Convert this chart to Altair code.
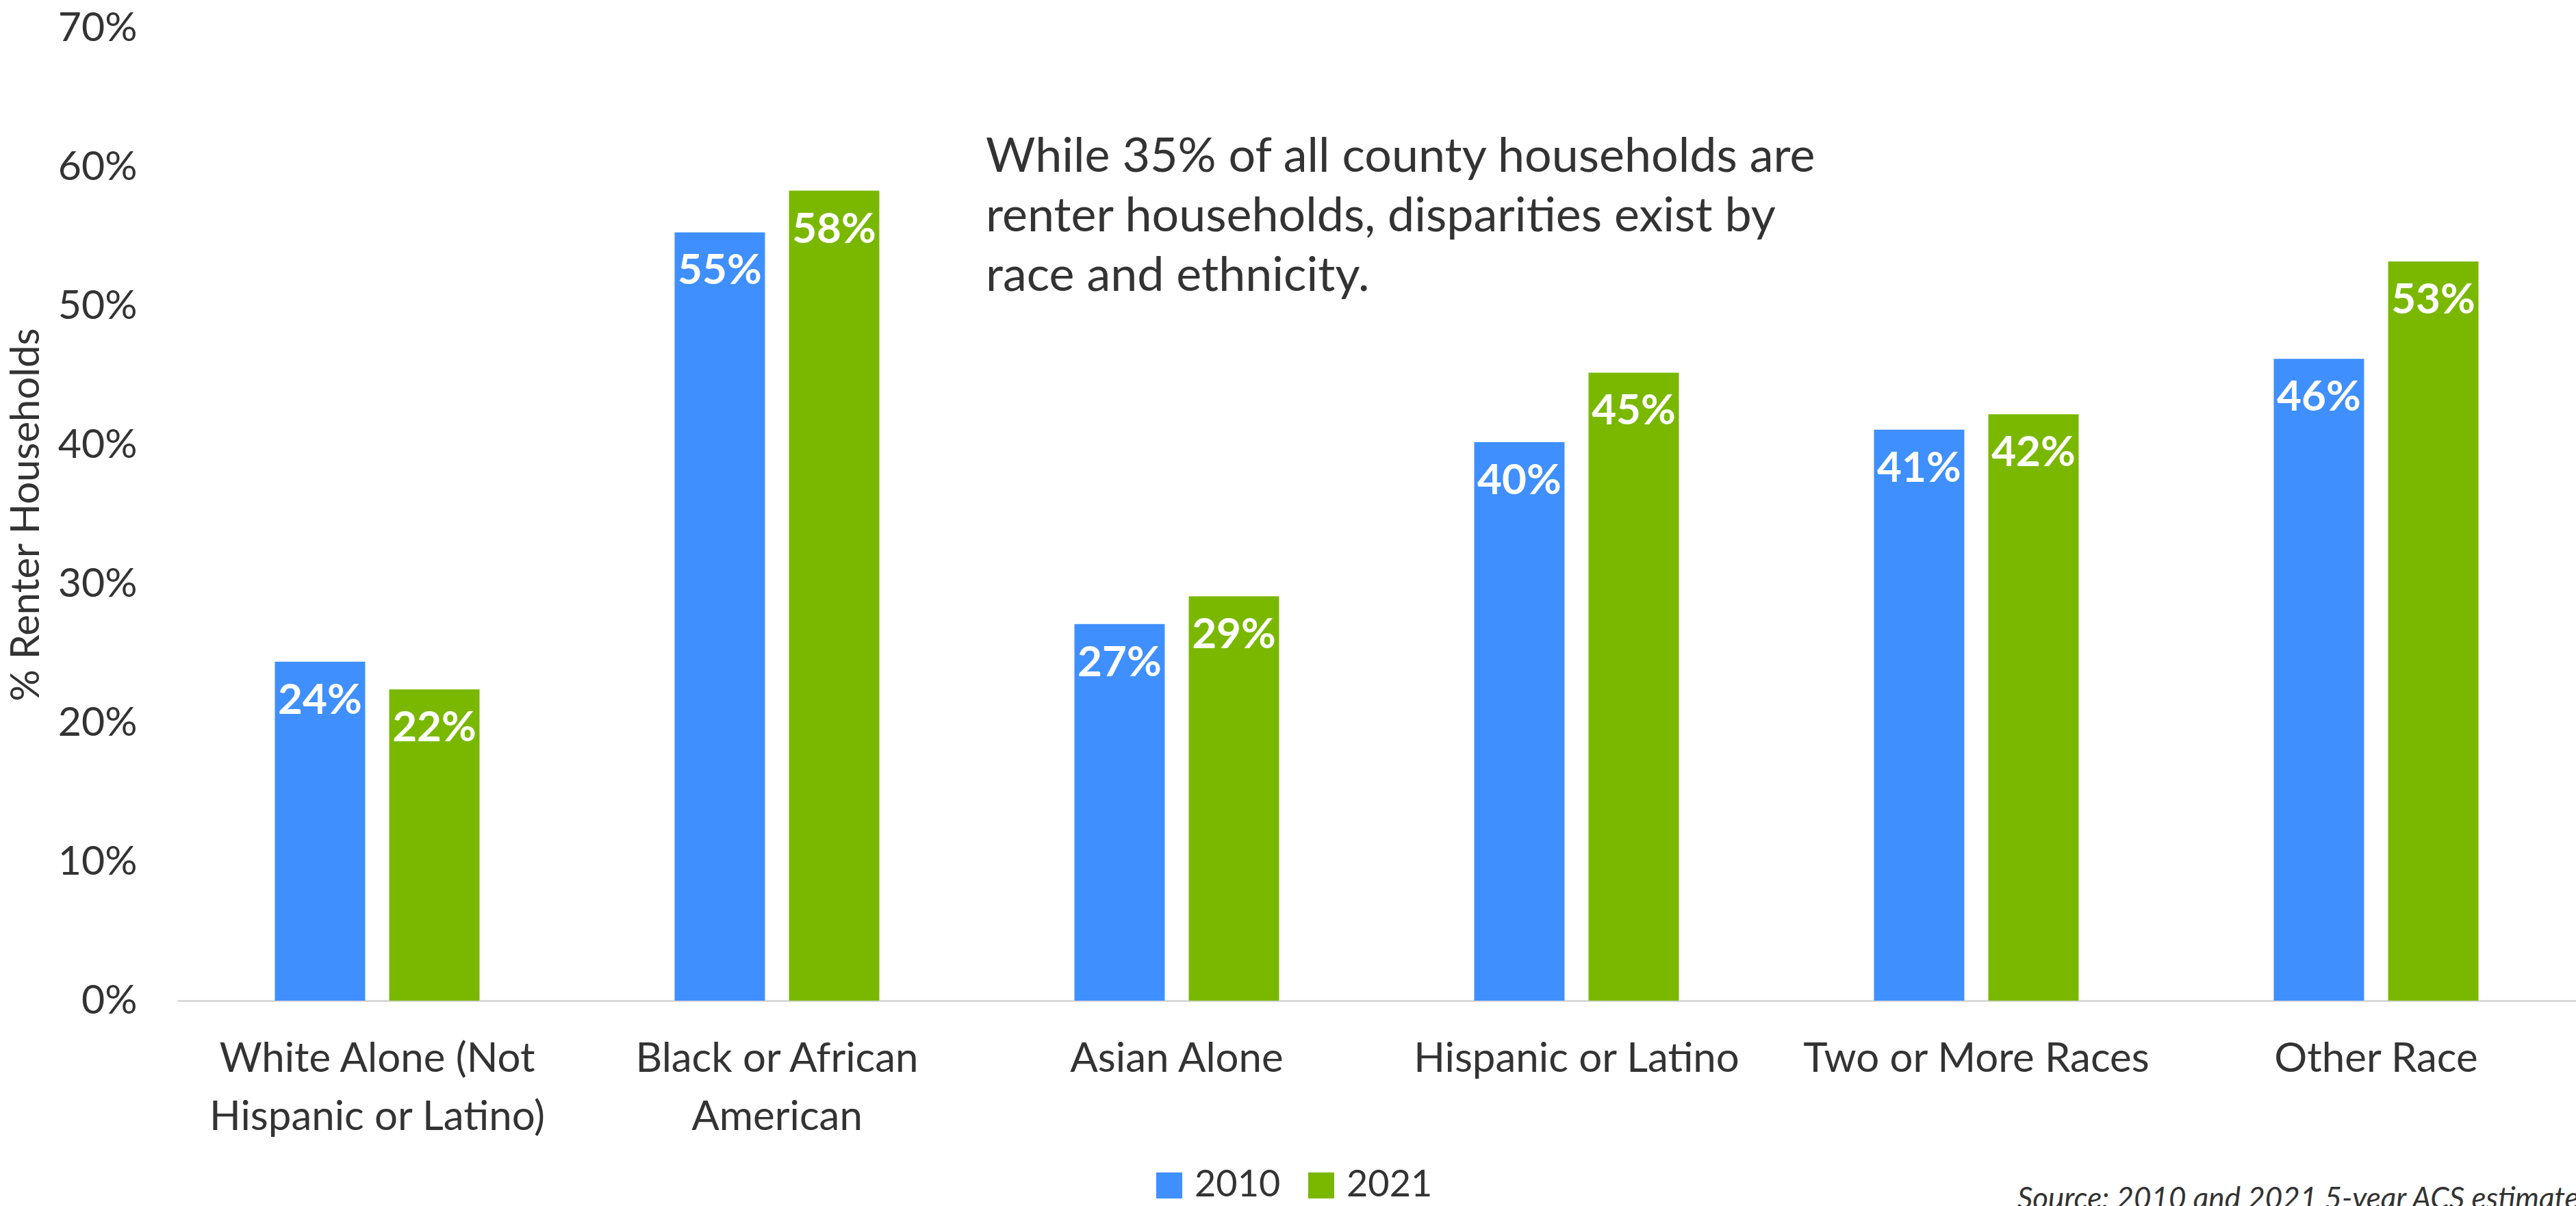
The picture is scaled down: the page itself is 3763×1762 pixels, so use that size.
import altair as alt
import pandas as pd

categories = [
    "White Alone (Not Hispanic or Latino)",
    "Black or African American",
    "Asian Alone",
    "Hispanic or Latino",
    "Two or More Races",
    "Other Race",
]
label_lines = [
    ["White Alone (Not", "Hispanic or Latino)"],
    ["Black or African", "American"],
    ["Asian Alone"],
    ["Hispanic or Latino"],
    ["Two or More Races"],
    ["Other Race"],
]
years = ["2010", "2021"]
values_2010 = [0.244, 0.553, 0.271, 0.402, 0.411, 0.462]
values_2021 = [0.224, 0.583, 0.291, 0.452, 0.422, 0.532]
colors = ["#3F8FFF", "#7AB800"]

annotation = [
    "While 35% of all county households are",
    "renter households, disparities exist by",
    "race and ethnicity.",
]
source_text = "Source: 2010 and 2021 5-year ACS estimates"

rows = []
for c, v1, v2 in zip(categories, values_2010, values_2021):
    rows.append({"category": c, "year": "2010", "value": v1})
    rows.append({"category": c, "year": "2021", "value": v2})
df = pd.DataFrame(rows)

FONT = "Lato"
TEXT = "#333333"

# label expression for multi-line x labels
parts = []
for c, lines in zip(categories, label_lines):
    arr = "[" + ",".join("'" + l.replace("'", "\\'") + "'" for l in lines) + "]"
    parts.append(f"datum.label == '{c}' ? {arr} : ")
label_expr = "".join(parts) + "datum.label"

W = 3504
H = 1421

x_enc = alt.X(
    "category:N",
    sort=categories,
    scale=alt.Scale(paddingInner=0, paddingOuter=0),
    axis=alt.Axis(
        title=None,
        labelAngle=0,
        labelExpr=label_expr,
        labelFont=FONT,
        labelFontSize=60,
        labelColor=TEXT,
        labelPadding=56,
        labelLineHeight=85,
        labelLimit=1000,
        ticks=False,
        domainColor="#d9d9d9",
        domainWidth=3,
        grid=False,
    ),
)
xoff = alt.XOffset(
    "year:N",
    sort=years,
    scale=alt.Scale(paddingInner=0.21, paddingOuter=0.853),
)
y_enc = alt.Y(
    "value:Q",
    scale=alt.Scale(domain=[0, 0.7]),
    axis=alt.Axis(
        title="% Renter Households",
        format=".0%",
        values=[0, 0.1, 0.2, 0.3, 0.4, 0.5, 0.6, 0.7],
        labelFont=FONT,
        labelFontSize=59,
        labelColor=TEXT,
        labelPadding=59,
        ticks=False,
        domain=False,
        grid=False,
        titleFont=FONT,
        titleFontSize=58,
        titleFontWeight="normal",
        titleColor=TEXT,
        titleX=-220,
        titleY=H / 2,
        titleAngle=270,
        titleBaseline="middle",
        titleAlign="center",
    ),
)

bars = alt.Chart(df).mark_bar().encode(
    x=x_enc,
    xOffset=xoff,
    y=y_enc,
    color=alt.Color(
        "year:N",
        sort=years,
        scale=alt.Scale(domain=years, range=colors),
        legend=alt.Legend(
            title=None,
            orient="none",
            direction="horizontal",
            legendX=1422,
            legendY=1664,
            padding=0,
            symbolType="square",
            symbolSize=1444,
            symbolStrokeWidth=0,
            labelFont=FONT,
            labelFontSize=54,
            labelColor=TEXT,
            labelOffset=10,
            columnPadding=32,
        ),
    ),
)

labels = alt.Chart(df).mark_text(
    baseline="top",
    dy=27,
    font=FONT,
    fontSize=62,
    fontWeight="bold",
    color="white",
).encode(
    x=alt.X("category:N", sort=categories),
    xOffset=xoff,
    y="value:Q",
    text=alt.Text("value:Q", format=".0%"),
)

ann = alt.Chart(pd.DataFrame({"t": [annotation]})).mark_text(
    align="left",
    baseline="middle",
    font=FONT,
    fontSize=70,
    lineHeight=87,
    color=TEXT,
).encode(
    x=alt.value(1181),
    y=alt.value(189),
    text="t",
)

src = alt.Chart(pd.DataFrame({"t": [source_text]})).mark_text(
    align="left",
    baseline="top",
    font=FONT,
    fontSize=44,
    fontStyle="italic",
    color=TEXT,
).encode(
    x=alt.value(2688),
    y=alt.value(1690),
    text="t",
)

chart = (
    alt.layer(bars, labels, ann, src)
    .properties(
        width=W,
        height=H,
        autosize=alt.AutoSizeParams(type="none"),
        padding={"left": 259, "top": 41, "right": 0, "bottom": 300},
        background="white",
    )
    .configure_view(stroke=None)
)

chart.save("out.html", embed_options={"renderer": "svg", "actions": False})
